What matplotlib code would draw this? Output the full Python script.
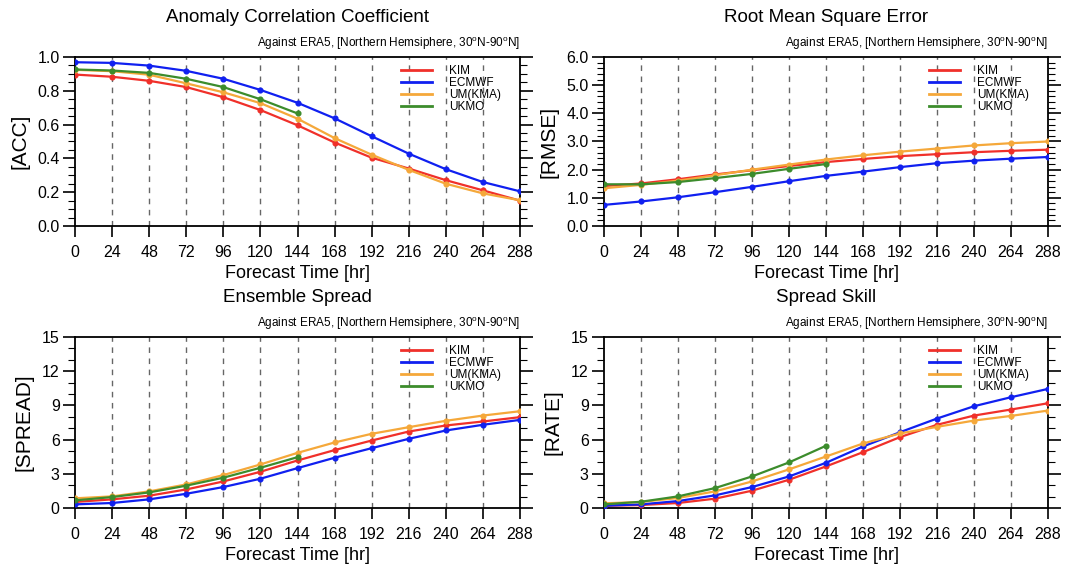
import numpy as np
import matplotlib
matplotlib.use('Agg')
from matplotlib import pyplot as plt
from matplotlib.ticker import MultipleLocator
from matplotlib.lines import Line2D

plt.rcParams['font.family'] = ['Liberation Sans', 'DejaVu Sans']

hours = [0, 24, 48, 72, 96, 120, 144, 168, 192, 216, 240, 264, 288]
models = ['KIM', 'ECMWF', 'UM(KMA)', 'UKMO']
colors = ['#f0302a', '#1020f0', '#f5a83a', '#3c8c2c']

# ACC
acc_kim = [0.896, 0.883, 0.859, 0.822, 0.762, 0.686, 0.596, 0.494, 0.404, 0.340, 0.271, 0.211, 0.150]
acc_ecmwf = [0.969, 0.965, 0.949, 0.918, 0.871, 0.805, 0.729, 0.637, 0.531, 0.428, 0.336, 0.260, 0.205]
acc_um = [0.924, 0.916, 0.895, 0.844, 0.791, 0.727, 0.635, 0.520, 0.422, 0.332, 0.250, 0.193, 0.152]
acc_ukmo = [0.926, 0.920, 0.906, 0.871, 0.822, 0.750, 0.666]

# RMSE
rmse_kim = [1.42, 1.51, 1.66, 1.83, 1.98, 2.13, 2.27, 2.38, 2.48, 2.55, 2.62, 2.67, 2.71]
rmse_ecmwf = [0.75, 0.87, 1.02, 1.20, 1.39, 1.59, 1.78, 1.93, 2.09, 2.23, 2.32, 2.39, 2.45]
rmse_um = [1.34, 1.46, 1.61, 1.80, 2.00, 2.18, 2.36, 2.51, 2.64, 2.75, 2.86, 2.94, 3.00]
rmse_ukmo = [1.48, 1.48, 1.56, 1.70, 1.85, 2.03, 2.20]

# Ensemble spread
spr_kim = [0.53, 0.76, 1.08, 1.63, 2.33, 3.18, 4.17, 5.08, 5.92, 6.71, 7.24, 7.59, 7.97]
spr_ecmwf = [0.32, 0.44, 0.76, 1.25, 1.84, 2.57, 3.50, 4.41, 5.25, 6.07, 6.80, 7.30, 7.73]
spr_um = [0.85, 1.02, 1.46, 2.07, 2.89, 3.82, 4.84, 5.75, 6.51, 7.09, 7.65, 8.11, 8.49]
spr_ukmo = [0.67, 0.96, 1.37, 1.96, 2.66, 3.53, 4.46]

# Spread skill
rate_kim = [0.20, 0.26, 0.44, 0.82, 1.52, 2.48, 3.65, 4.90, 6.22, 7.30, 8.11, 8.64, 9.19]
rate_ecmwf = [0.20, 0.32, 0.61, 1.11, 1.84, 2.77, 3.97, 5.40, 6.65, 7.85, 8.93, 9.72, 10.45]
rate_um = [0.41, 0.53, 0.88, 1.46, 2.33, 3.39, 4.52, 5.66, 6.54, 7.12, 7.67, 8.08, 8.55]
rate_ukmo = [0.32, 0.55, 1.02, 1.75, 2.77, 4.00, 5.46]

panels = [
    ('Anomaly Correlation Coefficient', '[ACC]', [acc_kim, acc_ecmwf, acc_um, acc_ukmo], (0, 1.0), 0.2, 0.05, '%.1f'),
    ('Root Mean Square Error', '[RMSE]', [rmse_kim, rmse_ecmwf, rmse_um, rmse_ukmo], (0, 6.0), 1.0, 0.2, '%.1f'),
    ('Ensemble Spread', '[SPREAD]', [spr_kim, spr_ecmwf, spr_um, spr_ukmo], (0, 15), 3, 1, '%d'),
    ('Spread Skill', '[RATE]', [rate_kim, rate_ecmwf, rate_um, rate_ukmo], (0, 15), 3, 1, '%d'),
]

subtitle = 'Against ERA5, [Northern Hemsiphere, 30$^\\mathregular{o}$N-90$^\\mathregular{o}$N]'

fig = plt.figure(figsize=(10.7, 5.71), dpi=100)
positions = [
    [0.0701, 0.6042, 0.4159, 0.2960],
    [0.5645, 0.6042, 0.4150, 0.2960],
    [0.0701, 0.1103, 0.4159, 0.2995],
    [0.5645, 0.1103, 0.4150, 0.2995],
]

for pos, (title, ylabel, series, ylim, major, minor, fmt) in zip(positions, panels):
    ax = fig.add_axes(pos)
    for name, color, vals in zip(models, colors, series):
        ax.plot(hours[:len(vals)], vals, color=color, lw=1.6, marker='o', ms=3.4,
                zorder=3)
    for h in hours[1:-1]:
        ax.axvline(h, color='#666666', lw=1.0, ls=(0, (4, 4)), zorder=1)
    ax.set_xlim(0, 288)
    ax.set_ylim(*ylim)
    ax.set_xticks(hours)
    ax.yaxis.set_major_locator(MultipleLocator(major))
    ax.yaxis.set_minor_locator(MultipleLocator(minor))
    ax.yaxis.set_major_formatter(plt.FormatStrFormatter(fmt))
    ax.tick_params(axis='y', which='both', direction='out', left=True, right=True,
                   labelsize=11.5, width=1.2)
    ax.tick_params(axis='y', which='major', length=9, pad=2)
    ax.tick_params(axis='y', which='minor', length=5, width=0.8)
    ax.tick_params(axis='x', which='major', direction='out', length=8, width=1.2,
                   labelsize=11.5, pad=6)
    for s in ax.spines.values():
        s.set_linewidth(1.3)
    ax.set_title(title, fontsize=13.5, pad=25)
    ax.text(1.0, 1.077, subtitle, transform=ax.transAxes, ha='right', va='center',
            fontsize=8.5)
    ax.set_xlabel('Forecast Time [hr]', fontsize=13, labelpad=3)
    ax.set_ylabel(ylabel, fontsize=15, labelpad=6)
    handles = [Line2D([], [], color=c, lw=2.0) for c in colors]
    ax.legend(handles, models, loc='upper right', bbox_to_anchor=(0.975, 1.0),
              frameon=False, fontsize=8.5, handlelength=2.6, handletextpad=1.4,
              labelspacing=0.0, borderaxespad=0.3)

fig.savefig('out.png', dpi=100)
